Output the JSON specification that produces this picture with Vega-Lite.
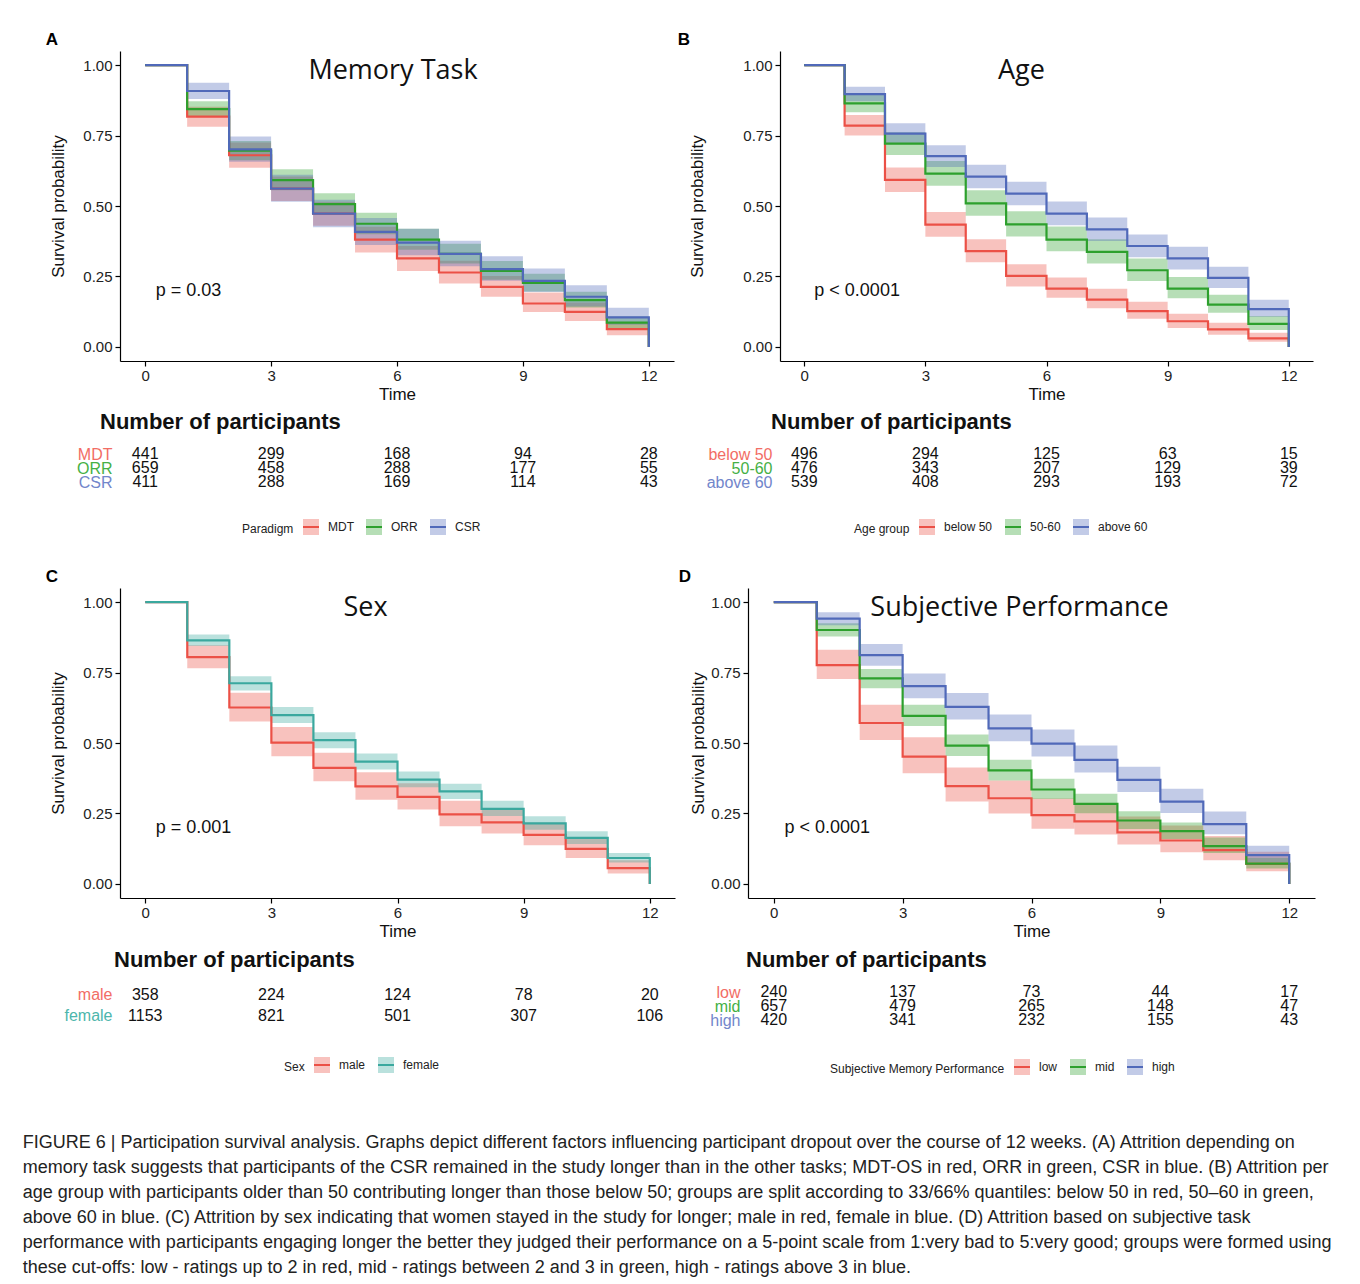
{
  "$schema": "https://vega.github.io/schema/vega-lite/v6.json",
  "background": "white",
  "padding": {"left": 22, "top": 31, "right": 10, "bottom": 0},
  "title": {
    "text": [
      "FIGURE 6 | Participation survival analysis. Graphs depict different factors influencing participant dropout over the course of 12 weeks. (A) Attrition depending on",
      "memory task suggests that participants of the CSR remained in the study longer than in the other tasks; MDT-OS in red, ORR in green, CSR in blue. (B) Attrition per",
      "age group with participants older than 50 contributing longer than those below 50; groups are split according to 33/66% quantiles: below 50 in red, 50–60 in green,",
      "above 60 in blue. (C) Attrition by sex indicating that women stayed in the study for longer; male in red, female in blue. (D) Attrition based on subjective task",
      "performance with participants engaging longer the better they judged their performance on a 5-point scale from 1:very bad to 5:very good; groups were formed using",
      "these cut-offs: low - ratings up to 2 in red, mid - ratings between 2 and 3 in green, high - ratings above 3 in blue."
    ],
    "orient": "bottom", "anchor": "start", "frame": "bounds", "dx": -23, "offset": 55,
    "fontSize": 18, "fontWeight": "normal", "lineHeight": 25, "font": "Liberation Sans", "color": "#222"
  },
  "config": {
    "view": {"stroke": null},
    "font": "Liberation Sans",
    "axis": {"grid": false, "domainColor": "#000", "tickColor": "#000", "labelColor": "#222", "titleColor": "#111",
             "labelFontSize": 15, "titleFontSize": 17, "titleFontWeight": "normal", "tickSize": 5, "labelPadding": 3,
             "domainWidth": 1.2, "tickWidth": 1.2, "labelFont": "Liberation Sans", "titleFont": "Liberation Sans"},
    "legend": {"layout": {"bottom": {"anchor": "middle"}}, "labelColor": "#222", "titleColor": "#222"}
  },
  "datasets": {
    "survA": [
      {"g":"MDT","t0":0,"t1":1,"s":1},{"g":"MDT","t0":1,"t1":2,"s":0.817,"lo":0.781,"hi":0.852},{"g":"MDT","t0":2,"t1":3,"s":0.680,"lo":0.636,"hi":0.725},{"g":"MDT","t0":3,"t1":4,"s":0.562,"lo":0.518,"hi":0.605},{"g":"MDT","t0":4,"t1":5,"s":0.473,"lo":0.430,"hi":0.515},{"g":"MDT","t0":5,"t1":6,"s":0.381,"lo":0.335,"hi":0.426},{"g":"MDT","t0":6,"t1":7,"s":0.314,"lo":0.269,"hi":0.358},{"g":"MDT","t0":7,"t1":8,"s":0.264,"lo":0.225,"hi":0.306},{"g":"MDT","t0":8,"t1":9,"s":0.213,"lo":0.178,"hi":0.252},{"g":"MDT","t0":9,"t1":10,"s":0.154,"lo":0.124,"hi":0.193},{"g":"MDT","t0":10,"t1":11,"s":0.124,"lo":0.092,"hi":0.158},{"g":"MDT","t0":11,"t1":12,"s":0.063,"lo":0.041,"hi":0.088},{"g":"MDT","t0":12,"s":0},
      {"g":"ORR","t0":0,"t1":1,"s":1},{"g":"ORR","t0":1,"t1":2,"s":0.844,"lo":0.817,"hi":0.872},{"g":"ORR","t0":2,"t1":3,"s":0.696,"lo":0.662,"hi":0.731},{"g":"ORR","t0":3,"t1":4,"s":0.592,"lo":0.556,"hi":0.630},{"g":"ORR","t0":4,"t1":5,"s":0.507,"lo":0.470,"hi":0.545},{"g":"ORR","t0":5,"t1":6,"s":0.437,"lo":0.400,"hi":0.476},{"g":"ORR","t0":6,"t1":7,"s":0.381,"lo":0.345,"hi":0.419},{"g":"ORR","t0":7,"t1":8,"s":0.330,"lo":0.296,"hi":0.366},{"g":"ORR","t0":8,"t1":9,"s":0.270,"lo":0.238,"hi":0.305},{"g":"ORR","t0":9,"t1":10,"s":0.227,"lo":0.197,"hi":0.260},{"g":"ORR","t0":10,"t1":11,"s":0.166,"lo":0.140,"hi":0.196},{"g":"ORR","t0":11,"t1":12,"s":0.086,"lo":0.067,"hi":0.108},{"g":"ORR","t0":12,"s":0},
      {"g":"CSR","t0":0,"t1":1,"s":1},{"g":"CSR","t0":1,"t1":2,"s":0.908,"lo":0.880,"hi":0.937},{"g":"CSR","t0":2,"t1":3,"s":0.701,"lo":0.657,"hi":0.747},{"g":"CSR","t0":3,"t1":4,"s":0.562,"lo":0.515,"hi":0.611},{"g":"CSR","t0":4,"t1":5,"s":0.473,"lo":0.425,"hi":0.522},{"g":"CSR","t0":5,"t1":6,"s":0.408,"lo":0.362,"hi":0.457},{"g":"CSR","t0":6,"t1":7,"s":0.370,"lo":0.325,"hi":0.419},{"g":"CSR","t0":7,"t1":8,"s":0.330,"lo":0.286,"hi":0.377},{"g":"CSR","t0":8,"t1":9,"s":0.276,"lo":0.235,"hi":0.322},{"g":"CSR","t0":9,"t1":10,"s":0.234,"lo":0.195,"hi":0.278},{"g":"CSR","t0":10,"t1":11,"s":0.178,"lo":0.143,"hi":0.219},{"g":"CSR","t0":11,"t1":12,"s":0.105,"lo":0.079,"hi":0.139},{"g":"CSR","t0":12,"s":0}
    ],
    "survB": [
      {"g":"below 50","t0":0,"t1":1,"s":1},{"g":"below 50","t0":1,"t1":2,"s":0.785,"lo":0.750,"hi":0.823},{"g":"below 50","t0":2,"t1":3,"s":0.593,"lo":0.550,"hi":0.637},{"g":"below 50","t0":3,"t1":4,"s":0.434,"lo":0.391,"hi":0.479},{"g":"below 50","t0":4,"t1":5,"s":0.340,"lo":0.300,"hi":0.382},{"g":"below 50","t0":5,"t1":6,"s":0.252,"lo":0.214,"hi":0.293},{"g":"below 50","t0":6,"t1":7,"s":0.207,"lo":0.174,"hi":0.246},{"g":"below 50","t0":7,"t1":8,"s":0.168,"lo":0.137,"hi":0.206},{"g":"below 50","t0":8,"t1":9,"s":0.127,"lo":0.100,"hi":0.160},{"g":"below 50","t0":9,"t1":10,"s":0.091,"lo":0.067,"hi":0.118},{"g":"below 50","t0":10,"t1":11,"s":0.062,"lo":0.043,"hi":0.086},{"g":"below 50","t0":11,"t1":12,"s":0.030,"lo":0.018,"hi":0.050},{"g":"below 50","t0":12,"s":0},
      {"g":"50-60","t0":0,"t1":1,"s":1},{"g":"50-60","t0":1,"t1":2,"s":0.864,"lo":0.833,"hi":0.895},{"g":"50-60","t0":2,"t1":3,"s":0.721,"lo":0.681,"hi":0.762},{"g":"50-60","t0":3,"t1":4,"s":0.615,"lo":0.572,"hi":0.660},{"g":"50-60","t0":4,"t1":5,"s":0.509,"lo":0.465,"hi":0.556},{"g":"50-60","t0":5,"t1":6,"s":0.435,"lo":0.392,"hi":0.481},{"g":"50-60","t0":6,"t1":7,"s":0.381,"lo":0.339,"hi":0.427},{"g":"50-60","t0":7,"t1":8,"s":0.337,"lo":0.296,"hi":0.382},{"g":"50-60","t0":8,"t1":9,"s":0.272,"lo":0.234,"hi":0.314},{"g":"50-60","t0":9,"t1":10,"s":0.207,"lo":0.173,"hi":0.248},{"g":"50-60","t0":10,"t1":11,"s":0.150,"lo":0.121,"hi":0.185},{"g":"50-60","t0":11,"t1":12,"s":0.082,"lo":0.060,"hi":0.110},{"g":"50-60","t0":12,"s":0},
      {"g":"above 60","t0":0,"t1":1,"s":1},{"g":"above 60","t0":1,"t1":2,"s":0.897,"lo":0.872,"hi":0.923},{"g":"above 60","t0":2,"t1":3,"s":0.757,"lo":0.721,"hi":0.794},{"g":"above 60","t0":3,"t1":4,"s":0.677,"lo":0.638,"hi":0.716},{"g":"above 60","t0":4,"t1":5,"s":0.604,"lo":0.563,"hi":0.646},{"g":"above 60","t0":5,"t1":6,"s":0.544,"lo":0.503,"hi":0.586},{"g":"above 60","t0":6,"t1":7,"s":0.473,"lo":0.432,"hi":0.516},{"g":"above 60","t0":7,"t1":8,"s":0.417,"lo":0.376,"hi":0.459},{"g":"above 60","t0":8,"t1":9,"s":0.358,"lo":0.318,"hi":0.399},{"g":"above 60","t0":9,"t1":10,"s":0.314,"lo":0.275,"hi":0.355},{"g":"above 60","t0":10,"t1":11,"s":0.245,"lo":0.209,"hi":0.284},{"g":"above 60","t0":11,"t1":12,"s":0.134,"lo":0.107,"hi":0.167},{"g":"above 60","t0":12,"s":0}
    ],
    "survC": [
      {"g":"male","t0":0,"t1":1,"s":1},{"g":"male","t0":1,"t1":2,"s":0.805,"lo":0.765,"hi":0.847},{"g":"male","t0":2,"t1":3,"s":0.626,"lo":0.576,"hi":0.678},{"g":"male","t0":3,"t1":4,"s":0.501,"lo":0.453,"hi":0.557},{"g":"male","t0":4,"t1":5,"s":0.412,"lo":0.364,"hi":0.465},{"g":"male","t0":5,"t1":6,"s":0.346,"lo":0.299,"hi":0.396},{"g":"male","t0":6,"t1":7,"s":0.309,"lo":0.264,"hi":0.357},{"g":"male","t0":7,"t1":8,"s":0.247,"lo":0.205,"hi":0.295},{"g":"male","t0":8,"t1":9,"s":0.218,"lo":0.179,"hi":0.264},{"g":"male","t0":9,"t1":10,"s":0.174,"lo":0.137,"hi":0.217},{"g":"male","t0":10,"t1":11,"s":0.124,"lo":0.092,"hi":0.163},{"g":"male","t0":11,"t1":12,"s":0.056,"lo":0.037,"hi":0.084},{"g":"male","t0":12,"s":0},
      {"g":"female","t0":0,"t1":1,"s":1},{"g":"female","t0":1,"t1":2,"s":0.864,"lo":0.844,"hi":0.885},{"g":"female","t0":2,"t1":3,"s":0.712,"lo":0.686,"hi":0.737},{"g":"female","t0":3,"t1":4,"s":0.599,"lo":0.571,"hi":0.628},{"g":"female","t0":4,"t1":5,"s":0.510,"lo":0.481,"hi":0.538},{"g":"female","t0":5,"t1":6,"s":0.434,"lo":0.406,"hi":0.463},{"g":"female","t0":6,"t1":7,"s":0.370,"lo":0.343,"hi":0.399},{"g":"female","t0":7,"t1":8,"s":0.328,"lo":0.301,"hi":0.355},{"g":"female","t0":8,"t1":9,"s":0.266,"lo":0.241,"hi":0.295},{"g":"female","t0":9,"t1":10,"s":0.215,"lo":0.192,"hi":0.240},{"g":"female","t0":10,"t1":11,"s":0.163,"lo":0.142,"hi":0.187},{"g":"female","t0":11,"t1":12,"s":0.092,"lo":0.076,"hi":0.110},{"g":"female","t0":12,"s":0}
    ],
    "survD": [
      {"g":"low","t0":0,"t1":1,"s":1},{"g":"low","t0":1,"t1":2,"s":0.776,"lo":0.727,"hi":0.831},{"g":"low","t0":2,"t1":3,"s":0.571,"lo":0.511,"hi":0.636},{"g":"low","t0":3,"t1":4,"s":0.452,"lo":0.393,"hi":0.520},{"g":"low","t0":4,"t1":5,"s":0.347,"lo":0.292,"hi":0.413},{"g":"low","t0":5,"t1":6,"s":0.304,"lo":0.250,"hi":0.367},{"g":"low","t0":6,"t1":7,"s":0.244,"lo":0.196,"hi":0.303},{"g":"low","t0":7,"t1":8,"s":0.222,"lo":0.175,"hi":0.281},{"g":"low","t0":8,"t1":9,"s":0.183,"lo":0.140,"hi":0.239},{"g":"low","t0":9,"t1":10,"s":0.154,"lo":0.112,"hi":0.207},{"g":"low","t0":10,"t1":11,"s":0.120,"lo":0.084,"hi":0.170},{"g":"low","t0":11,"t1":12,"s":0.071,"lo":0.045,"hi":0.114},{"g":"low","t0":12,"s":0},
      {"g":"mid","t0":0,"t1":1,"s":1},{"g":"mid","t0":1,"t1":2,"s":0.901,"lo":0.878,"hi":0.925},{"g":"mid","t0":2,"t1":3,"s":0.729,"lo":0.694,"hi":0.763},{"g":"mid","t0":3,"t1":4,"s":0.596,"lo":0.560,"hi":0.636},{"g":"mid","t0":4,"t1":5,"s":0.491,"lo":0.454,"hi":0.530},{"g":"mid","t0":5,"t1":6,"s":0.403,"lo":0.367,"hi":0.441},{"g":"mid","t0":6,"t1":7,"s":0.335,"lo":0.301,"hi":0.373},{"g":"mid","t0":7,"t1":8,"s":0.284,"lo":0.251,"hi":0.320},{"g":"mid","t0":8,"t1":9,"s":0.225,"lo":0.195,"hi":0.258},{"g":"mid","t0":9,"t1":10,"s":0.187,"lo":0.159,"hi":0.218},{"g":"mid","t0":10,"t1":11,"s":0.134,"lo":0.110,"hi":0.165},{"g":"mid","t0":11,"t1":12,"s":0.072,"lo":0.055,"hi":0.093},{"g":"mid","t0":12,"s":0},
      {"g":"high","t0":0,"t1":1,"s":1},{"g":"high","t0":1,"t1":2,"s":0.941,"lo":0.918,"hi":0.964},{"g":"high","t0":2,"t1":3,"s":0.812,"lo":0.774,"hi":0.851},{"g":"high","t0":3,"t1":4,"s":0.702,"lo":0.659,"hi":0.747},{"g":"high","t0":4,"t1":5,"s":0.628,"lo":0.583,"hi":0.677},{"g":"high","t0":5,"t1":6,"s":0.552,"lo":0.506,"hi":0.601},{"g":"high","t0":6,"t1":7,"s":0.498,"lo":0.452,"hi":0.548},{"g":"high","t0":7,"t1":8,"s":0.440,"lo":0.395,"hi":0.491},{"g":"high","t0":8,"t1":9,"s":0.369,"lo":0.326,"hi":0.416},{"g":"high","t0":9,"t1":10,"s":0.292,"lo":0.252,"hi":0.338},{"g":"high","t0":10,"t1":11,"s":0.212,"lo":0.176,"hi":0.257},{"g":"high","t0":11,"t1":12,"s":0.102,"lo":0.076,"hi":0.135},{"g":"high","t0":12,"s":0}
    ],
    "riskA": [
      {"g":"MDT","t":0,"n":441},{"g":"MDT","t":3,"n":299},{"g":"MDT","t":6,"n":168},{"g":"MDT","t":9,"n":94},{"g":"MDT","t":12,"n":28},
      {"g":"ORR","t":0,"n":659},{"g":"ORR","t":3,"n":458},{"g":"ORR","t":6,"n":288},{"g":"ORR","t":9,"n":177},{"g":"ORR","t":12,"n":55},
      {"g":"CSR","t":0,"n":411},{"g":"CSR","t":3,"n":288},{"g":"CSR","t":6,"n":169},{"g":"CSR","t":9,"n":114},{"g":"CSR","t":12,"n":43}
    ],
    "riskB": [
      {"g":"below 50","t":0,"n":496},{"g":"below 50","t":3,"n":294},{"g":"below 50","t":6,"n":125},{"g":"below 50","t":9,"n":63},{"g":"below 50","t":12,"n":15},
      {"g":"50-60","t":0,"n":476},{"g":"50-60","t":3,"n":343},{"g":"50-60","t":6,"n":207},{"g":"50-60","t":9,"n":129},{"g":"50-60","t":12,"n":39},
      {"g":"above 60","t":0,"n":539},{"g":"above 60","t":3,"n":408},{"g":"above 60","t":6,"n":293},{"g":"above 60","t":9,"n":193},{"g":"above 60","t":12,"n":72}
    ],
    "riskC": [
      {"g":"male","t":0,"n":358},{"g":"male","t":3,"n":224},{"g":"male","t":6,"n":124},{"g":"male","t":9,"n":78},{"g":"male","t":12,"n":20},
      {"g":"female","t":0,"n":1153},{"g":"female","t":3,"n":821},{"g":"female","t":6,"n":501},{"g":"female","t":9,"n":307},{"g":"female","t":12,"n":106}
    ],
    "riskD": [
      {"g":"low","t":0,"n":240},{"g":"low","t":3,"n":137},{"g":"low","t":6,"n":73},{"g":"low","t":9,"n":44},{"g":"low","t":12,"n":17},
      {"g":"mid","t":0,"n":657},{"g":"mid","t":3,"n":479},{"g":"mid","t":6,"n":265},{"g":"mid","t":9,"n":148},{"g":"mid","t":12,"n":47},
      {"g":"high","t":0,"n":420},{"g":"high","t":3,"n":341},{"g":"high","t":6,"n":232},{"g":"high","t":9,"n":155},{"g":"high","t":12,"n":43}
    ]
  },
  "spacing": 29,
  "align": "none",
  "resolve": {"scale": {"fill": "independent", "stroke": "independent"}, "legend": {"fill": "independent", "stroke": "independent"}},
  "vconcat": [
    {
      "align": "none",
      "spacing": 3,
      "resolve": {"scale": {"fill": "independent", "stroke": "independent"}, "legend": {"fill": "independent", "stroke": "independent"}},
      "hconcat": [
        {
          "title": {"text": "A", "anchor": "start", "dx": -4, "fontSize": 17, "fontWeight": "bold", "offset": 2, "color": "#000"},
          "spacing": 9,
          "vconcat": [
            {
              "width": 554, "height": 310,
              "title": {"text": "Memory Task", "font": "Open Sans", "fontSize": 27, "fontWeight": "normal", "offset": -34, "dx": -4, "anchor": "middle", "color": "#111"},
              "data": {"name": "survA"},
              "layer": [
                {"transform": [{"filter": "isValid(datum.lo)"}], "mark": {"type": "rect", "fillOpacity": 0.35},
                 "encoding": {
                   "x": {"field": "t0", "type": "quantitative", "scale": {"domain": [-0.6, 12.6], "nice": false, "zero": false}, "axis": {"values": [0,3,6,9,12], "title": "Time", "labelPadding": 2, "titlePadding": 3}},
                   "x2": {"field": "t1"},
                   "y": {"field": "lo", "type": "quantitative", "scale": {"domain": [-0.05, 1.05], "nice": false, "zero": false}, "axis": {"values": [0,0.25,0.5,0.75,1], "format": ".2f", "title": "Survival probability", "titlePadding": 15}},
                   "y2": {"field": "hi"},
                   "fill": {"field": "g", "type": "nominal", "title": "Paradigm", "scale": {"domain": ["MDT","ORR","CSR"], "range": ["#EB5046","#2DA02D","#5069B9"]},
                     "legend": {"orient": "bottom", "direction": "horizontal", "titleOrient": "left", "offset": 28, "symbolType": "M-1,0H1V-1H-1V1H1V0Z", "symbolSize": 256, "symbolStrokeWidth": 2, "symbolDash": [16, 80], "labelFontSize": 12, "titleFontSize": 12, "titleFontWeight": "normal", "columnPadding": 8, "labelOffset": 8, "titlePadding": 8, "encode": {"symbols": {"update": {"fillOpacity": {"value": 0.35}, "strokeOpacity": {"value": 1}}}}}}}},
                {"mark": {"type": "line", "interpolate": "step-after", "strokeWidth": 2.2},
                 "encoding": {
                   "x": {"field": "t0", "type": "quantitative"},
                   "y": {"field": "s", "type": "quantitative"},
                   "stroke": {"field": "g", "type": "nominal", "title": "Paradigm", "scale": {"domain": ["MDT","ORR","CSR"], "range": ["#EB5046","#2DA02D","#5069B9"]},
                     "legend": {"orient": "bottom", "direction": "horizontal", "titleOrient": "left", "offset": 28, "symbolType": "M-1,0H1V-1H-1V1H1V0Z", "symbolSize": 256, "symbolStrokeWidth": 2, "symbolDash": [16, 80], "labelFontSize": 12, "titleFontSize": 12, "titleFontWeight": "normal", "columnPadding": 8, "labelOffset": 8, "titlePadding": 8, "encode": {"symbols": {"update": {"fillOpacity": {"value": 0.35}, "strokeOpacity": {"value": 1}}}}}}}},
                {"data": {"values": [{"label": "p = 0.03"}]}, "mark": {"type": "text", "align": "left", "baseline": "middle", "fontSize": 18, "color": "#111"},
                 "encoding": {"x": {"datum": 0.25, "type": "quantitative"}, "y": {"datum": 0.2, "type": "quantitative"}, "text": {"field": "label", "type": "nominal"}}}
              ]
            },
            {
              "width": 554, "height": 42,
              "title": {"text": "Number of participants", "anchor": "start", "frame": "group", "dx": -20, "fontSize": 22, "fontWeight": "bold", "offset": 12, "color": "#111"},
              "data": {"name": "riskA"},
              "mark": {"type": "text", "fontSize": 16, "color": "#111", "baseline": "middle"},
              "encoding": {
                "x": {"field": "t", "type": "quantitative", "scale": {"domain": [-0.6, 12.6], "nice": false, "zero": false}, "axis": null},
                "y": {"field": "g", "type": "nominal", "sort": ["MDT","ORR","CSR"], "scale": {"paddingInner": 0, "paddingOuter": 0},
                  "axis": {"title": null, "domain": false, "ticks": false, "labelPadding": 8, "labelFontSize": 16,
                    "labelColor": {"condition": [{"test": "datum.value === 'MDT'", "value": "#F26D65"}, {"test": "datum.value === 'ORR'", "value": "#45B045"}], "value": "#7286CB"}}},
                "text": {"field": "n", "type": "nominal"}
              }
            }
          ]
        },
        {
          "title": {"text": "B", "anchor": "start", "dx": -11, "fontSize": 17, "fontWeight": "bold", "offset": 2, "color": "#000"},
          "spacing": 9,
          "vconcat": [
            {
              "width": 533, "height": 310,
              "title": {"text": "Age", "font": "Open Sans", "fontSize": 27, "fontWeight": "normal", "offset": -34, "dx": -25, "anchor": "middle", "color": "#111"},
              "data": {"name": "survB"},
              "layer": [
                {"transform": [{"filter": "isValid(datum.lo)"}], "mark": {"type": "rect", "fillOpacity": 0.35},
                 "encoding": {
                   "x": {"field": "t0", "type": "quantitative", "scale": {"domain": [-0.6, 12.6], "nice": false, "zero": false}, "axis": {"values": [0,3,6,9,12], "title": "Time", "labelPadding": 2, "titlePadding": 3}},
                   "x2": {"field": "t1"},
                   "y": {"field": "lo", "type": "quantitative", "scale": {"domain": [-0.05, 1.05], "nice": false, "zero": false}, "axis": {"values": [0,0.25,0.5,0.75,1], "format": ".2f", "title": "Survival probability", "titlePadding": 36}},
                   "y2": {"field": "hi"},
                   "fill": {"field": "g", "type": "nominal", "title": "Age group", "scale": {"domain": ["below 50","50-60","above 60"], "range": ["#EB5046","#2DA02D","#5069B9"]},
                     "legend": {"orient": "bottom", "direction": "horizontal", "titleOrient": "left", "offset": 28, "symbolType": "M-1,0H1V-1H-1V1H1V0Z", "symbolSize": 256, "symbolStrokeWidth": 2, "symbolDash": [16, 80], "labelFontSize": 12, "titleFontSize": 12, "titleFontWeight": "normal", "columnPadding": 8, "labelOffset": 8, "titlePadding": 8, "encode": {"symbols": {"update": {"fillOpacity": {"value": 0.35}, "strokeOpacity": {"value": 1}}}}}}}},
                {"mark": {"type": "line", "interpolate": "step-after", "strokeWidth": 2.2},
                 "encoding": {
                   "x": {"field": "t0", "type": "quantitative"},
                   "y": {"field": "s", "type": "quantitative"},
                   "stroke": {"field": "g", "type": "nominal", "title": "Age group", "scale": {"domain": ["below 50","50-60","above 60"], "range": ["#EB5046","#2DA02D","#5069B9"]},
                     "legend": {"orient": "bottom", "direction": "horizontal", "titleOrient": "left", "offset": 28, "symbolType": "M-1,0H1V-1H-1V1H1V0Z", "symbolSize": 256, "symbolStrokeWidth": 2, "symbolDash": [16, 80], "labelFontSize": 12, "titleFontSize": 12, "titleFontWeight": "normal", "columnPadding": 8, "labelOffset": 8, "titlePadding": 8, "encode": {"symbols": {"update": {"fillOpacity": {"value": 0.35}, "strokeOpacity": {"value": 1}}}}}}}},
                {"data": {"values": [{"label": "p < 0.0001"}]}, "mark": {"type": "text", "align": "left", "baseline": "middle", "fontSize": 18, "color": "#111"},
                 "encoding": {"x": {"datum": 0.25, "type": "quantitative"}, "y": {"datum": 0.2, "type": "quantitative"}, "text": {"field": "label", "type": "nominal"}}}
              ]
            },
            {
              "width": 533, "height": 42,
              "title": {"text": "Number of participants", "anchor": "start", "frame": "group", "dx": -9, "fontSize": 22, "fontWeight": "bold", "offset": 12, "color": "#111"},
              "data": {"name": "riskB"},
              "mark": {"type": "text", "fontSize": 16, "color": "#111", "baseline": "middle"},
              "encoding": {
                "x": {"field": "t", "type": "quantitative", "scale": {"domain": [-0.6, 12.6], "nice": false, "zero": false}, "axis": null},
                "y": {"field": "g", "type": "nominal", "sort": ["below 50","50-60","above 60"], "scale": {"paddingInner": 0, "paddingOuter": 0},
                  "axis": {"title": null, "domain": false, "ticks": false, "labelPadding": 8, "labelFontSize": 16,
                    "labelColor": {"condition": [{"test": "datum.value === 'below 50'", "value": "#F26D65"}, {"test": "datum.value === '50-60'", "value": "#45B045"}], "value": "#7286CB"}}},
                "text": {"field": "n", "type": "nominal"}
              }
            }
          ]
        }
      ]
    },
    {
      "align": "none",
      "spacing": 3,
      "resolve": {"scale": {"fill": "independent", "stroke": "independent"}, "legend": {"fill": "independent", "stroke": "independent"}},
      "hconcat": [
        {
          "title": {"text": "C", "anchor": "start", "dx": -4, "fontSize": 17, "fontWeight": "bold", "offset": 2, "color": "#000"},
          "spacing": 10,
          "vconcat": [
            {
              "width": 555, "height": 310,
              "title": {"text": "Sex", "font": "Open Sans", "fontSize": 27, "fontWeight": "normal", "offset": -34, "dx": -32, "anchor": "middle", "color": "#111"},
              "data": {"name": "survC"},
              "layer": [
                {"transform": [{"filter": "isValid(datum.lo)"}], "mark": {"type": "rect", "fillOpacity": 0.35},
                 "encoding": {
                   "x": {"field": "t0", "type": "quantitative", "scale": {"domain": [-0.6, 12.6], "nice": false, "zero": false}, "axis": {"values": [0,3,6,9,12], "title": "Time", "labelPadding": 2, "titlePadding": 3}},
                   "x2": {"field": "t1"},
                   "y": {"field": "lo", "type": "quantitative", "scale": {"domain": [-0.05, 1.05], "nice": false, "zero": false}, "axis": {"values": [0,0.25,0.5,0.75,1], "format": ".2f", "title": "Survival probability", "titlePadding": 15}},
                   "y2": {"field": "hi"},
                   "fill": {"field": "g", "type": "nominal", "title": "Sex", "scale": {"domain": ["male","female"], "range": ["#EB5046","#3AA89E"]},
                     "legend": {"orient": "bottom", "direction": "horizontal", "titleOrient": "left", "offset": 30, "symbolType": "M-1,0H1V-1H-1V1H1V0Z", "symbolSize": 256, "symbolStrokeWidth": 2, "symbolDash": [16, 80], "labelFontSize": 12, "titleFontSize": 12, "titleFontWeight": "normal", "columnPadding": 8, "labelOffset": 8, "titlePadding": 8, "encode": {"symbols": {"update": {"fillOpacity": {"value": 0.35}, "strokeOpacity": {"value": 1}}}}}}}},
                {"mark": {"type": "line", "interpolate": "step-after", "strokeWidth": 2.2},
                 "encoding": {
                   "x": {"field": "t0", "type": "quantitative"},
                   "y": {"field": "s", "type": "quantitative"},
                   "stroke": {"field": "g", "type": "nominal", "title": "Sex", "scale": {"domain": ["male","female"], "range": ["#EB5046","#3AA89E"]},
                     "legend": {"orient": "bottom", "direction": "horizontal", "titleOrient": "left", "offset": 30, "symbolType": "M-1,0H1V-1H-1V1H1V0Z", "symbolSize": 256, "symbolStrokeWidth": 2, "symbolDash": [16, 80], "labelFontSize": 12, "titleFontSize": 12, "titleFontWeight": "normal", "columnPadding": 8, "labelOffset": 8, "titlePadding": 8, "encode": {"symbols": {"update": {"fillOpacity": {"value": 0.35}, "strokeOpacity": {"value": 1}}}}}}}},
                {"data": {"values": [{"label": "p = 0.001"}]}, "mark": {"type": "text", "align": "left", "baseline": "middle", "fontSize": 18, "color": "#111"},
                 "encoding": {"x": {"datum": 0.25, "type": "quantitative"}, "y": {"datum": 0.2, "type": "quantitative"}, "text": {"field": "label", "type": "nominal"}}}
              ]
            },
            {
              "width": 555, "height": 42,
              "title": {"text": "Number of participants", "anchor": "start", "frame": "group", "dx": -6, "fontSize": 22, "fontWeight": "bold", "offset": 12, "color": "#111"},
              "data": {"name": "riskC"},
              "mark": {"type": "text", "fontSize": 16, "color": "#111", "baseline": "middle"},
              "encoding": {
                "x": {"field": "t", "type": "quantitative", "scale": {"domain": [-0.6, 12.6], "nice": false, "zero": false}, "axis": null},
                "y": {"field": "g", "type": "nominal", "sort": ["male","female"], "scale": {"paddingInner": 0, "paddingOuter": 0},
                  "axis": {"title": null, "domain": false, "ticks": false, "labelPadding": 8, "labelFontSize": 16,
                    "labelColor": {"condition": {"test": "datum.value === 'male'", "value": "#F26D65"}, "value": "#4DB6AC"}}},
                "text": {"field": "n", "type": "nominal"}
              }
            }
          ]
        },
        {
          "title": {"text": "D", "anchor": "start", "dx": -11, "fontSize": 17, "fontWeight": "bold", "offset": 2, "color": "#000"},
          "spacing": 10,
          "vconcat": [
            {
              "width": 567, "height": 310,
              "title": {"text": "Subjective Performance", "font": "Open Sans", "fontSize": 27, "fontWeight": "normal", "offset": -34, "dx": -12, "anchor": "middle", "color": "#111"},
              "data": {"name": "survD"},
              "layer": [
                {"transform": [{"filter": "isValid(datum.lo)"}], "mark": {"type": "rect", "fillOpacity": 0.35},
                 "encoding": {
                   "x": {"field": "t0", "type": "quantitative", "scale": {"domain": [-0.6, 12.6], "nice": false, "zero": false}, "axis": {"values": [0,3,6,9,12], "title": "Time", "labelPadding": 2, "titlePadding": 3}},
                   "x2": {"field": "t1"},
                   "y": {"field": "lo", "type": "quantitative", "scale": {"domain": [-0.05, 1.05], "nice": false, "zero": false}, "axis": {"values": [0,0.25,0.5,0.75,1], "format": ".2f", "title": "Survival probability", "titlePadding": 3}},
                   "y2": {"field": "hi"},
                   "fill": {"field": "g", "type": "nominal", "title": "Subjective Memory Performance", "scale": {"domain": ["low","mid","high"], "range": ["#EB5046","#2DA02D","#5069B9"]},
                     "legend": {"orient": "bottom", "direction": "horizontal", "titleOrient": "left", "offset": 30, "symbolType": "M-1,0H1V-1H-1V1H1V0Z", "symbolSize": 256, "symbolStrokeWidth": 2, "symbolDash": [16, 80], "labelFontSize": 12, "titleFontSize": 12, "titleFontWeight": "normal", "columnPadding": 8, "labelOffset": 8, "titlePadding": 8, "encode": {"symbols": {"update": {"fillOpacity": {"value": 0.35}, "strokeOpacity": {"value": 1}}}}}}}},
                {"mark": {"type": "line", "interpolate": "step-after", "strokeWidth": 2.2},
                 "encoding": {
                   "x": {"field": "t0", "type": "quantitative"},
                   "y": {"field": "s", "type": "quantitative"},
                   "stroke": {"field": "g", "type": "nominal", "title": "Subjective Memory Performance", "scale": {"domain": ["low","mid","high"], "range": ["#EB5046","#2DA02D","#5069B9"]},
                     "legend": {"orient": "bottom", "direction": "horizontal", "titleOrient": "left", "offset": 30, "symbolType": "M-1,0H1V-1H-1V1H1V0Z", "symbolSize": 256, "symbolStrokeWidth": 2, "symbolDash": [16, 80], "labelFontSize": 12, "titleFontSize": 12, "titleFontWeight": "normal", "columnPadding": 8, "labelOffset": 8, "titlePadding": 8, "encode": {"symbols": {"update": {"fillOpacity": {"value": 0.35}, "strokeOpacity": {"value": 1}}}}}}}},
                {"data": {"values": [{"label": "p < 0.0001"}]}, "mark": {"type": "text", "align": "left", "baseline": "middle", "fontSize": 18, "color": "#111"},
                 "encoding": {"x": {"datum": 0.25, "type": "quantitative"}, "y": {"datum": 0.2, "type": "quantitative"}, "text": {"field": "label", "type": "nominal"}}}
              ]
            },
            {
              "width": 567, "height": 42,
              "title": {"text": "Number of participants", "anchor": "start", "frame": "group", "dx": -2, "fontSize": 22, "fontWeight": "bold", "offset": 12, "color": "#111"},
              "data": {"name": "riskD"},
              "mark": {"type": "text", "fontSize": 16, "color": "#111", "baseline": "middle"},
              "encoding": {
                "x": {"field": "t", "type": "quantitative", "scale": {"domain": [-0.6, 12.6], "nice": false, "zero": false}, "axis": null},
                "y": {"field": "g", "type": "nominal", "sort": ["low","mid","high"], "scale": {"paddingInner": 0, "paddingOuter": 0},
                  "axis": {"title": null, "domain": false, "ticks": false, "labelPadding": 8, "labelFontSize": 16,
                    "labelColor": {"condition": [{"test": "datum.value === 'low'", "value": "#F26D65"}, {"test": "datum.value === 'mid'", "value": "#45B045"}], "value": "#7286CB"}}},
                "text": {"field": "n", "type": "nominal"}
              }
            }
          ]
        }
      ]
    }
  ]
}
